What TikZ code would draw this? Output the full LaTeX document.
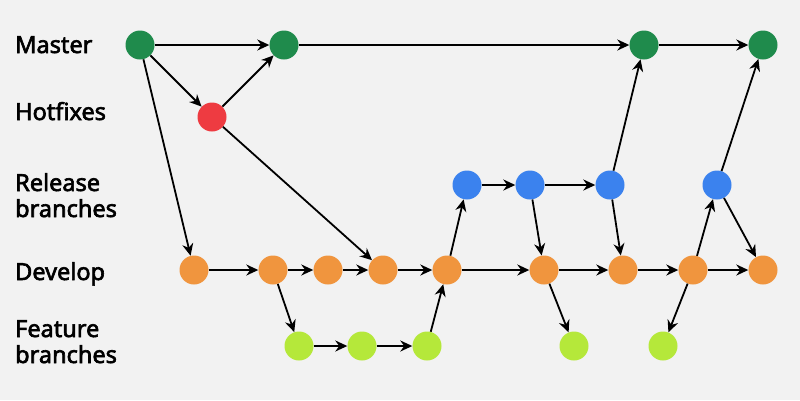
\documentclass[tikz,border=0pt]{standalone}
\usepackage{fontspec}
\setmainfont{Noto Sans}
\newfontfamily\lblfont[FakeBold=2.6]{Noto Sans}
\usetikzlibrary{arrows.meta}
\definecolor{bg}{HTML}{F2F2F2}
\definecolor{cmaster}{HTML}{1F8B4C}
\definecolor{chot}{HTML}{EE3B41}
\definecolor{crel}{HTML}{3B82EE}
\definecolor{cdev}{HTML}{F0953E}
\definecolor{cfeat}{HTML}{B5E83A}
\tikzset{
  commit/.style={circle,minimum size=29pt,inner sep=0pt,draw=none},
  ms/.style={commit,fill=cmaster},
  hf/.style={commit,fill=chot},
  rl/.style={commit,fill=crel},
  dv/.style={commit,fill=cdev},
  ft/.style={commit,fill=cfeat},
  lbl/.style={anchor=base west,inner sep=0pt,font=\lblfont\fontsize{23.5}{27}\selectfont},
  arr/.style={-{Stealth[length=12pt,width=11pt]},line width=1.8pt,black}
}
\begin{document}
\begin{tikzpicture}[x=1pt,y=-1pt]
\fill[bg] (0,0) rectangle (800,400);
\useasboundingbox (0,0) rectangle (800,400);
\node[lbl] (l1) at (15,53) {Master};
\node[lbl] (l2) at (15,120) {Hotfixes};
\node[lbl] (l3) at (15,191) {Release};
\node[lbl] (l3b) at (15,217) {branches};
\node[lbl] (l4) at (15,280) {Develop};
\node[lbl] (l5) at (15,337) {Feature};
\node[lbl] (l5b) at (15,363) {branches};

\node[ms] (m1) at (140,45) {};
\node[ms] (m2) at (284,45) {};
\node[ms] (m3) at (644,45) {};
\node[ms] (m4) at (763,45) {};
\node[hf] (h1) at (212,117) {};
\node[rl] (r1) at (467,185) {};
\node[rl] (r2) at (530,185) {};
\node[rl] (r3) at (610,185) {};
\node[rl] (r4) at (717,185) {};
\node[dv] (d1) at (194,270) {};
\node[dv] (d2) at (273,270) {};
\node[dv] (d3) at (328,270) {};
\node[dv] (d4) at (383,270) {};
\node[dv] (d5) at (447,270) {};
\node[dv] (d6) at (544,270) {};
\node[dv] (d7) at (623,270) {};
\node[dv] (d8) at (693,270) {};
\node[dv] (d9) at (763,270) {};
\node[ft] (f1) at (299,346) {};
\node[ft] (f2) at (362,346) {};
\node[ft] (f3) at (427,346) {};
\node[ft] (f4) at (574,346) {};
\node[ft] (f5) at (663,346) {};

\draw[arr] (m1) -- (m2);
\draw[arr] (m2) -- (m3);
\draw[arr] (m3) -- (m4);
\draw[arr] (m1) -- (h1);
\draw[arr] (h1) -- (m2);
\draw[arr] (m1) -- (d1);
\draw[arr] (h1) -- (d4);
\draw[arr] (d1) -- (d2);
\draw[arr] (d2) -- (d3);
\draw[arr] (d3) -- (d4);
\draw[arr] (d4) -- (d5);
\draw[arr] (d5) -- (d6);
\draw[arr] (d6) -- (d7);
\draw[arr] (d7) -- (d8);
\draw[arr] (d8) -- (d9);
\draw[arr] (d2) -- (f1);
\draw[arr] (f1) -- (f2);
\draw[arr] (f2) -- (f3);
\draw[arr] (f3) -- (d5);
\draw[arr] (d5) -- (r1);
\draw[arr] (r1) -- (r2);
\draw[arr] (r2) -- (r3);
\draw[arr] (r2) -- (d6);
\draw[arr] (d6) -- (f4);
\draw[arr] (r3) -- (m3);
\draw[arr] (r3) -- (d7);
\draw[arr] (d8) -- (f5);
\draw[arr] (d8) -- (r4);
\draw[arr] (r4) -- (m4);
\draw[arr] (r4) -- (d9);
\end{tikzpicture}
\end{document}
